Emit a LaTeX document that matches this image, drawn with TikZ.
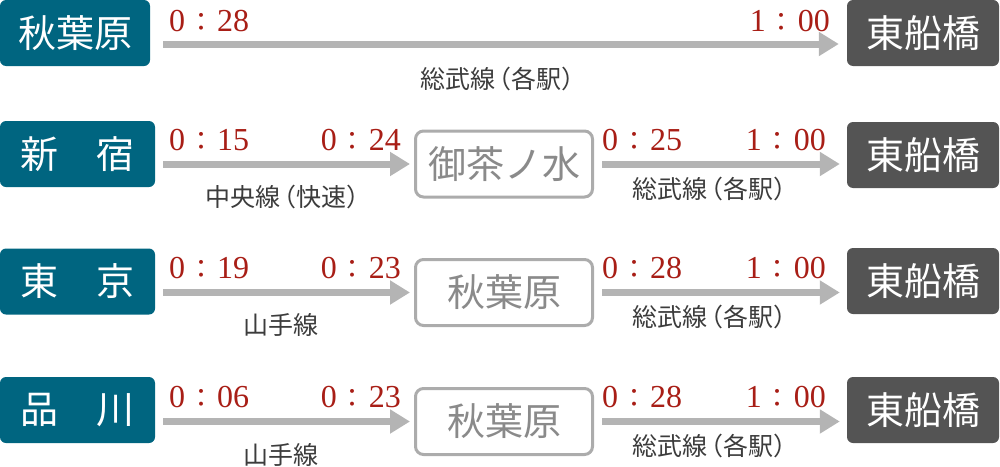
\documentclass[tikz,border=0pt]{standalone}
\usepackage{fontspec}
\setmainfont{Liberation Serif}
\newfontfamily\jp{Noto Sans CJK JP}
\usetikzlibrary{arrows.meta}
\definecolor{tealA}{RGB}{0,101,128}
\definecolor{darkA}{RGB}{84,84,84}
\definecolor{arrgray}{RGB}{180,180,180}
\definecolor{boxgray}{RGB}{172,172,172}
\definecolor{txtgray}{RGB}{138,138,138}
\definecolor{tred}{RGB}{168,30,22}
\definecolor{lblcol}{RGB}{60,60,60}
\newcommand{\tmx}[2]{#1\kern3pt{\jp\fontsize{26}{26}\selectfont ：}\kern3pt#2}
\newcommand{\lpar}{\kern-9pt（}
\newcommand{\rpar}{）\kern-9pt}
\begin{document}
\begin{tikzpicture}[x=1pt,y=-1pt,
  origin/.style={fill=tealA, text=white, rounded corners=6pt, minimum width=155pt, minimum height=66pt, inner sep=0pt, font=\jp\fontsize{38}{38}\selectfont},
  dest/.style={fill=darkA, text=white, rounded corners=6pt, minimum width=152pt, minimum height=66pt, inner sep=0pt, font=\jp\fontsize{38}{38}\selectfont},
  via/.style={draw=boxgray, line width=3pt, fill=white, text=txtgray, rounded corners=8pt, minimum width=177pt, minimum height=66pt, inner sep=0pt, font=\jp\fontsize{38}{38}\selectfont},
  arr/.style={draw=arrgray, line width=7pt, -{Triangle[length=20pt 0, width=23pt 0]}},
  tlabel/.style={text=tred, font=\fontsize{32}{32}\selectfont, inner sep=0pt},
  llabel/.style={text=lblcol, font=\jp\fontsize{25}{25}\selectfont, inner sep=0pt}
]
\useasboundingbox (0,0) rectangle (1000,466);

% Row 1
\node[origin, minimum width=150pt] (o1) at (75,33) {秋葉原};
\node[dest] (d1) at (923,33) {東船橋};
\coordinate (r1) at (0,44);
\draw[arr, shorten <=13pt, shorten >=8pt] (o1.east |- r1) -- (d1.west |- r1);
\node[tlabel, anchor=base west] (t11) at (169,31) {\tmx{0}{28}};
\node[tlabel, anchor=base east] (t12) at (830,31) {\tmx{1}{00}};
\node[llabel] (l1) at (499,79) {総武線\lpar 各駅\rpar};

% Row 2
\node[origin] (o2) at (77.5,154) {新　宿};
\node[via] (v2) at (504,164) {御茶ノ水};
\node[dest] (d2) at (923,155) {東船橋};
\draw[arr, shorten <=8pt, shorten >=4pt] (o2.east |- v2.west) -- (v2.west);
\draw[arr, shorten <=8pt, shorten >=7pt] (v2.east) -- (d2.west |- v2.east);
\node[tlabel, anchor=base west] (t21) at (169,150) {\tmx{0}{15}};
\node[tlabel, anchor=base east] (t22) at (401,150) {\tmx{0}{24}};
\node[tlabel, anchor=base west] (t23) at (602,150) {\tmx{0}{25}};
\node[tlabel, anchor=base east] (t24) at (826,150) {\tmx{1}{00}};
\node[llabel] (l21) at (284,197) {中央線\lpar 快速\rpar};
\node[llabel] (l22) at (711,189) {総武線\lpar 各駅\rpar};

% Row 3
\node[origin] (o3) at (77.5,281.5) {東　京};
\node[via] (v3) at (504,292.5) {秋葉原};
\node[dest] (d3) at (923,281) {東船橋};
\draw[arr, shorten <=8pt, shorten >=4pt] (o3.east |- v3.west) -- (v3.west);
\draw[arr, shorten <=8pt, shorten >=7pt] (v3.east) -- (d3.west |- v3.east);
\node[tlabel, anchor=base west] (t31) at (169,278) {\tmx{0}{19}};
\node[tlabel, anchor=base east] (t32) at (401,278) {\tmx{0}{23}};
\node[tlabel, anchor=base west] (t33) at (602,278) {\tmx{0}{28}};
\node[tlabel, anchor=base east] (t34) at (826,278) {\tmx{1}{00}};
\node[llabel] (l31) at (281,325) {山手線};
\node[llabel] (l32) at (711,317) {総武線\lpar 各駅\rpar};

% Row 4
\node[origin] (o4) at (77.5,410) {品　川};
\node[via] (v4) at (504,421.5) {秋葉原};
\node[dest] (d4) at (923,410) {東船橋};
\draw[arr, shorten <=8pt, shorten >=4pt] (o4.east |- v4.west) -- (v4.west);
\draw[arr, shorten <=8pt, shorten >=7pt] (v4.east) -- (d4.west |- v4.east);
\node[tlabel, anchor=base west] (t41) at (169,407) {\tmx{0}{06}};
\node[tlabel, anchor=base east] (t42) at (401,407) {\tmx{0}{23}};
\node[tlabel, anchor=base west] (t43) at (602,407) {\tmx{0}{28}};
\node[tlabel, anchor=base east] (t44) at (826,407) {\tmx{1}{00}};
\node[llabel] (l41) at (281,455) {山手線};
\node[llabel] (l42) at (711,446) {総武線\lpar 各駅\rpar};
\end{tikzpicture}
\end{document}
